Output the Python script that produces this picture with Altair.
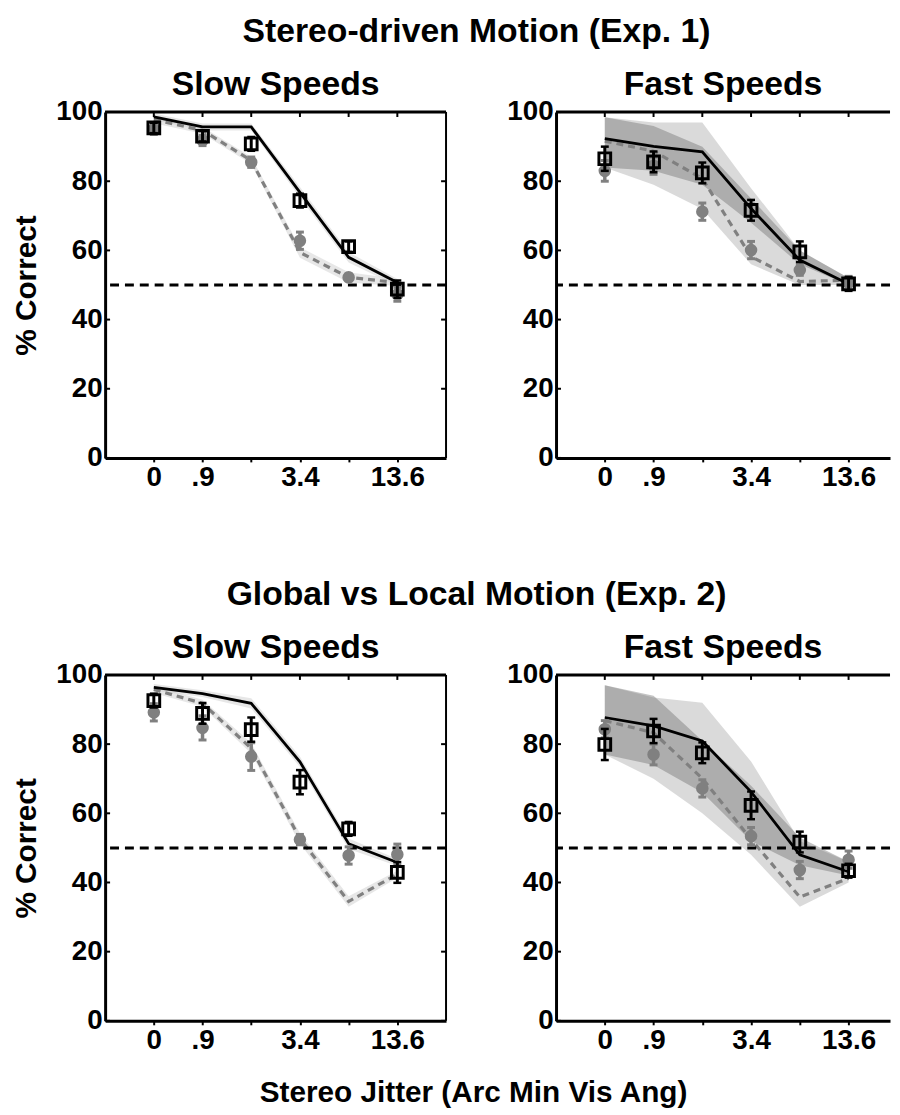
import altair as alt
import pandas as pd

FONT = "Liberation Sans"

# x positions (equally spaced jitter levels) and tick labels
X_IDX = [0, 1, 2, 3, 4, 5]
X_TICK_LABELS = ["0", ".9", "", "3.4", "", "13.6"]
Y_TICKS = [0, 20, 40, 60, 80, 100]

# ---- Exp. 1, slow speeds ----
E1S_SQ = [95.4, 93.0, 90.8, 74.4, 61.1, 48.8]
E1S_SQ_ERR = [1.5, 1.5, 2.0, 2.0, 1.5, 2.5]
E1S_GR = [95.0, 91.8, 85.5, 62.8, 52.2, 47.3]
E1S_GR_ERR = [1.5, 1.5, 1.5, 2.5, 1.0, 2.0]
E1S_FIT_B = [98.6, 95.7, 95.7, 76.8, 58.0, 50.7]
E1S_FIT_G = [97.8, 94.7, 86.0, 59.4, 52.2, 50.7]
E1S_BAND_HW = [1.0, 1.0, 1.0, 1.5, 1.5, 1.0]

# ---- Exp. 1, fast speeds ----
E1F_SQ = [86.5, 85.6, 82.4, 71.6, 59.6, 50.3]
E1F_SQ_ERR = [3.5, 3.0, 3.0, 3.0, 3.0, 2.0]
E1F_GR = [83.0, 84.5, 71.2, 60.1, 54.3, 51.0]
E1F_GR_ERR = [3.0, 2.5, 2.5, 2.5, 1.5, 1.5]
E1F_FIT_B = [92.3, 90.1, 88.5, 72.1, 57.2, 50.3]
E1F_FIT_G = [91.6, 88.7, 80.8, 58.2, 51.0, 51.4]
E1F_LIGHT_HI = [98.5, 97.0, 97.0, 78.0, 60.0, 52.0]
E1F_LIGHT_LO = [84.0, 79.0, 72.0, 56.0, 50.0, 50.0]
E1F_DARK_HI = [98.5, 96.0, 90.0, 75.0, 60.0, 52.0]
E1F_DARK_LO = [84.0, 83.0, 79.0, 68.0, 56.0, 50.0]

# ---- Exp. 2, slow speeds ----
E2S_SQ = [92.6, 88.9, 84.2, 69.0, 55.5, 42.9]
E2S_SQ_ERR = [2.0, 3.0, 3.5, 3.5, 2.0, 3.0]
E2S_GR = [89.2, 84.7, 76.4, 52.4, 47.8, 48.1]
E2S_GR_ERR = [2.5, 3.5, 4.0, 1.5, 2.5, 3.0]
E2S_FIT_B = [96.4, 94.6, 91.8, 74.9, 51.2, 45.8]
E2S_FIT_G = [95.8, 91.8, 78.8, 52.7, 34.5, 42.4]
E2S_BAND_HW = [1.0, 1.0, 1.5, 1.5, 1.5, 1.0]

# ---- Exp. 2, fast speeds ----
E2F_SQ = [79.9, 83.8, 77.5, 62.3, 51.7, 43.4]
E2F_SQ_ERR = [4.5, 3.5, 3.0, 4.0, 3.0, 2.0]
E2F_GR = [84.3, 77.0, 67.2, 53.4, 43.6, 46.6]
E2F_GR_ERR = [2.5, 3.0, 2.5, 2.5, 2.5, 2.5]
E2F_FIT_B = [87.7, 85.3, 80.9, 66.2, 48.0, 43.1]
E2F_FIT_G = [86.8, 83.3, 70.1, 52.5, 35.8, 41.2]
E2F_LIGHT_HI = [97.0, 93.5, 92.0, 75.0, 52.0, 46.0]
E2F_LIGHT_LO = [77.0, 70.0, 60.0, 48.0, 33.0, 40.0]
E2F_DARK_HI = [97.0, 94.0, 81.0, 68.0, 53.0, 46.0]
E2F_DARK_LO = [77.0, 74.0, 66.0, 52.0, 45.0, 42.0]

CHANCE = 50

PLOT_H = 349
GRAY = "#808080"


def panel(title, sq, sq_err, gr, gr_err, fit_b, fit_g, bands, left, width, xmax):
    df = pd.DataFrame({
        "x": X_IDX, "sq": sq, "gr": gr, "fb": fit_b, "fg": fit_g,
        "sq_lo": [v - e for v, e in zip(sq, sq_err)],
        "sq_hi": [v + e for v, e in zip(sq, sq_err)],
        "gr_lo": [v - e for v, e in zip(gr, gr_err)],
        "gr_hi": [v + e for v, e in zip(gr, gr_err)],
    })
    xs = alt.Scale(domain=[-1, xmax], nice=False, zero=False)
    ys = alt.Scale(domain=[0, 100], nice=False, zero=False)
    label_expr = "[" + ",".join("'%s'" % t for t in X_TICK_LABELS) + "][datum.value]"
    xax = alt.Axis(values=X_IDX, labelExpr=label_expr, title=None, tickSize=4,
                   tickWidth=2, tickColor="black", labelPadding=2, grid=False,
                   domainWidth=3, domainColor="black", labelFlush=False)
    yax = alt.Axis(values=Y_TICKS, title="% Correct" if left else None, ticks=False,
                   labelPadding=3, grid=False, domainWidth=3, domainColor="black",
                   minExtent=50, maxExtent=50, titlePadding=14,
                   titleFontSize=30)
    X = alt.X("x:Q", scale=xs, axis=xax)
    base = alt.Chart(df)
    layers = []
    for (hi, lo, color, op) in bands:
        bdf = pd.DataFrame({"x": X_IDX, "hi": hi, "lo": lo})
        layers.append(alt.Chart(bdf).mark_area(color=color, opacity=op).encode(
            x=X, y=alt.Y("hi:Q", scale=ys, axis=yax), y2="lo:Q"))
    layers.append(base.mark_line(color=GRAY, strokeWidth=3.2, strokeDash=[7, 5]).encode(
        x=X, y=alt.Y("fg:Q", scale=ys, axis=yax)))
    layers.append(base.mark_line(color="black", strokeWidth=2.8).encode(
        x=X, y=alt.Y("fb:Q", scale=ys, axis=yax)))
    chance = alt.Chart(pd.DataFrame({"c": [CHANCE]})).mark_rule(
        color="black", strokeWidth=3, strokeDash=[9, 6]).encode(y=alt.Y("c:Q", scale=ys, axis=yax))
    layers.append(chance)
    # gray data
    layers.append(base.mark_rule(color=GRAY, strokeWidth=3.5).encode(
        x=X, y=alt.Y("gr_lo:Q", scale=ys, axis=yax), y2="gr_hi:Q"))
    for f in ["gr_lo", "gr_hi"]:
        layers.append(base.mark_rule(color=GRAY, strokeWidth=3, xOffset=-4, x2Offset=4).encode(
            x=X, x2="x:Q", y=alt.Y(f + ":Q", scale=ys, axis=yax)))
    layers.append(base.mark_point(shape="circle", filled=True, size=160, color=GRAY, opacity=1).encode(
        x=X, y=alt.Y("gr:Q", scale=ys, axis=yax)))
    # black data
    layers.append(base.mark_rule(color="black", strokeWidth=3).encode(
        x=X, y=alt.Y("sq_lo:Q", scale=ys, axis=yax), y2="sq_hi:Q"))
    for f in ["sq_lo", "sq_hi"]:
        layers.append(base.mark_rule(color="black", strokeWidth=2.5, xOffset=-4, x2Offset=4).encode(
            x=X, x2="x:Q", y=alt.Y(f + ":Q", scale=ys, axis=yax)))
    layers.append(base.mark_point(shape="square", filled=False, size=140, color="black",
                                  strokeWidth=3, opacity=1).encode(
        x=X, y=alt.Y("sq:Q", scale=ys, axis=yax)))
    # frame: top border and inner ticks
    top = alt.Chart(pd.DataFrame({"t": [100]})).mark_rule(color="black", strokeWidth=3).encode(
        y=alt.Y("t:Q", scale=ys, axis=yax))
    layers.append(top)
    tdf = pd.DataFrame({"x": X_IDX})
    layers.append(alt.Chart(tdf).mark_rule(color="black", strokeWidth=2).encode(
        x=X, y=alt.value(0), y2=alt.value(5)))
    ydf = pd.DataFrame({"y": Y_TICKS})
    layers.append(alt.Chart(ydf).mark_rule(color="black", strokeWidth=2).encode(
        y=alt.Y("y:Q", scale=ys, axis=yax), x=alt.value(0), x2=alt.value(5)))
    if left:
        rdf = pd.DataFrame({"r": [xmax]})
        layers.append(alt.Chart(rdf).mark_rule(color="black", strokeWidth=2).encode(
            x=alt.X("r:Q", scale=xs, axis=xax)))
        layers.append(alt.Chart(ydf).mark_rule(color="black", strokeWidth=2).encode(
            y=alt.Y("y:Q", scale=ys, axis=yax), x=alt.value(width), x2=alt.value(width - 5)))
    return alt.layer(*layers).properties(
        width=width, height=PLOT_H,
        title=alt.TitleParams(title, fontSize=34, offset=-4, font=FONT, fontWeight="bold"))


LIGHT = "#bcbcbc"
DARK = "#646464"

tl = panel("Slow Speeds", E1S_SQ, E1S_SQ_ERR, E1S_GR, E1S_GR_ERR, E1S_FIT_B, E1S_FIT_G,
           [([b + h for b, h in zip(E1S_FIT_B, E1S_BAND_HW)], [b - h for b, h in zip(E1S_FIT_B, E1S_BAND_HW)], "#d0d0d0", 0.5),
            ([g + h for g, h in zip(E1S_FIT_G, E1S_BAND_HW)], [g - h for g, h in zip(E1S_FIT_G, E1S_BAND_HW)], "#d0d0d0", 0.5)],
           True, 344, 6)
tr = panel("Fast Speeds", E1F_SQ, E1F_SQ_ERR, E1F_GR, E1F_GR_ERR, E1F_FIT_B, E1F_FIT_G,
           [(E1F_LIGHT_HI, E1F_LIGHT_LO, LIGHT, 0.55), (E1F_DARK_HI, E1F_DARK_LO, DARK, 0.38)],
           False, 337, 5.85)
bl = panel("Slow Speeds", E2S_SQ, E2S_SQ_ERR, E2S_GR, E2S_GR_ERR, E2S_FIT_B, E2S_FIT_G,
           [([b + h for b, h in zip(E2S_FIT_B, E2S_BAND_HW)], [b - h for b, h in zip(E2S_FIT_B, E2S_BAND_HW)], "#d0d0d0", 0.5),
            ([g + h for g, h in zip(E2S_FIT_G, E2S_BAND_HW)], [g - h for g, h in zip(E2S_FIT_G, E2S_BAND_HW)], "#d0d0d0", 0.5)],
           True, 344, 6)
br = panel("Fast Speeds", E2F_SQ, E2F_SQ_ERR, E2F_GR, E2F_GR_ERR, E2F_FIT_B, E2F_FIT_G,
           [(E2F_LIGHT_HI, E2F_LIGHT_LO, LIGHT, 0.55), (E2F_DARK_HI, E2F_DARK_LO, DARK, 0.38)],
           False, 337, 5.85)

row1 = alt.hconcat(tl, tr, spacing=59).properties(
    title=alt.TitleParams("Stereo-driven Motion (Exp. 1)", fontSize=34, offset=20, dx=25,
                          font=FONT, fontWeight="bold"))
row2 = alt.hconcat(bl, br, spacing=59).properties(
    title=alt.TitleParams("Global vs Local Motion (Exp. 2)", fontSize=34, offset=20, dx=25,
                          font=FONT, fontWeight="bold"))

chart = alt.vconcat(row1, row2, spacing=87).properties(
    title=alt.TitleParams("Stereo Jitter (Arc Min Vis Ang)", orient="bottom", fontSize=30,
                          offset=24, dx=22, font=FONT, fontWeight="bold"),
    padding={"left": 4, "top": 2, "right": 0, "bottom": 0},
).configure_view(stroke=None).configure_axis(
    labelFont=FONT, labelFontSize=28, labelFontWeight="bold", labelColor="black",
    titleFont=FONT, titleFontWeight="bold", titleColor="black",
).configure_title(color="black", anchor="middle")

chart.save("out.html", embed_options={"renderer": "svg", "actions": False})
